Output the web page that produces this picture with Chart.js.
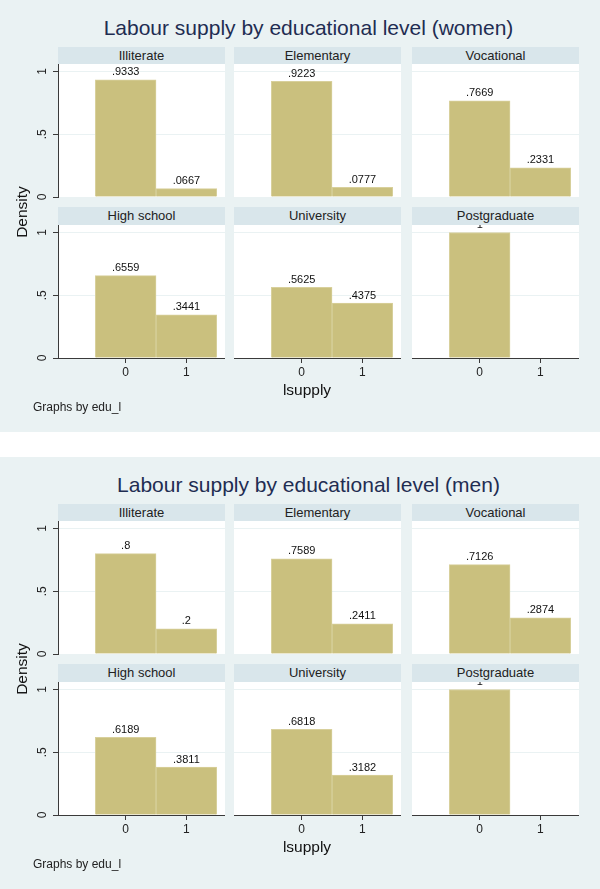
<!DOCTYPE html>
<html>
<head>
<meta charset="utf-8">
<script src="https://cdn.jsdelivr.net/npm/chart.js@4.4.1/dist/chart.umd.min.js"></script>
<style>
  body { margin: 0; background: #fff; width: 600px; height: 889px; position: relative; overflow: hidden;
         font-family: "Liberation Sans", Arial, Helvetica, sans-serif; }
  .fig { position: absolute; left: 0; width: 600px; height: 432px; background: #eaf2f3; }
  .title { position: absolute; left: 0; width: 617px; top: 16px; line-height: 24px; text-align: center;
           font-size: 21px; color: #1f2d52; white-space: nowrap; }
  .strip { position: absolute; background: #d9e6eb; text-align: center; font-size: 13px; color: #222; }
  .xtitle { position: absolute; left: 207px; width: 200px; top: 381px; line-height: 18px; text-align: center;
            font-size: 15.5px; color: #111; }
  .ytitle { position: absolute; left: -18px; top: 203px; width: 80px; line-height: 18px; text-align: center;
            font-size: 15.5px; color: #111; transform: rotate(-90deg); }
  .note { position: absolute; left: 33px; top: 400px; line-height: 14px; font-size: 12px; color: #222; }
  .panel { position: absolute; }
</style>
</head>
<body>
<script>
// panels in Stata by() order
var categories = ['Illiterate', 'Elementary', 'Vocational', 'High school', 'University', 'Postgraduate'];

// density of lsupply = 0 and lsupply = 1 in each group
var women0 = [.9333, .9223, .7669, .6559, .5625, 1];
var women1 = [.0667, .0777, .2331, .3441, .4375, 0];
var men0 = [.8, .7589, .7126, .6189, .6818, 1];
var men1 = [.2, .2411, .2874, .3811, .3182, 0];

var xTicks = [0, 1];
var yTicks = [0, .5, 1];

var figures = [
  { title: 'Labour supply by educational level (women)', v0: women0, v1: women1 },
  { title: 'Labour supply by educational level (men)', v0: men0, v1: men1 }
];

var BAR = '#cac07e';
var BAR_EDGE = '#d8d09c';
var AXIS = '#3a3a3a';
var GRID = '#eaf2f3';
var FONT = '"Liberation Sans", Arial, Helvetica, sans-serif';

var colLeft = [58, 234, 412];
var plotTop = [64, 225];
var stripTop = [47, 207];
var plotW = 167, plotH = 133;

function fmt(v) {
  return String(v).replace(/^0\./, '.');
}

var plotBg = {
  id: 'plotBg',
  beforeDraw: function(chart) {
    var a = chart.chartArea, ctx = chart.ctx;
    ctx.save();
    ctx.fillStyle = '#ffffff';
    ctx.fillRect(a.left, a.top, a.right - a.left, a.bottom - a.top);
    ctx.restore();
  }
};

var barLabels = {
  id: 'barLabels',
  afterDatasetsDraw: function(chart) {
    var a = chart.chartArea, ctx = chart.ctx;
    var meta = chart.getDatasetMeta(0);
    var data = chart.data.datasets[0].data;
    ctx.save();
    ctx.beginPath();
    ctx.rect(a.left, a.top, a.right - a.left, a.bottom - a.top);
    ctx.clip();
    ctx.font = '11px ' + FONT;
    ctx.fillStyle = '#111';
    ctx.textAlign = 'center';
    ctx.textBaseline = 'alphabetic';
    meta.data.forEach(function(bar, j) {
      if (data[j].y == null) return;
      ctx.fillText(fmt(data[j].y), bar.x, bar.y - 4.5);
    });
    ctx.restore();
  }
};

// Stata writes the y tick labels turned on their side
var yLabels = {
  id: 'yLabels',
  afterDraw: function(chart, args, opts) {
    if (!opts.show) return;
    var s = chart.scales.y, ctx = chart.ctx;
    ctx.save();
    ctx.font = '12px ' + FONT;
    ctx.fillStyle = '#222';
    ctx.textAlign = 'center';
    ctx.textBaseline = 'middle';
    s.ticks.forEach(function(t) {
      ctx.save();
      ctx.translate(chart.chartArea.left - 15, s.getPixelForValue(t.value));
      ctx.rotate(-Math.PI / 2);
      ctx.fillText(fmt(t.value), 0, 0);
      ctx.restore();
    });
    ctx.restore();
  }
};

figures.forEach(function(f, fi) {
  var fig = document.createElement('div');
  fig.className = 'fig';
  fig.style.top = (fi * 457) + 'px';
  document.body.appendChild(fig);

  var t = document.createElement('div');
  t.className = 'title';
  t.textContent = f.title;
  fig.appendChild(t);

  categories.forEach(function(cat, i) {
    var row = Math.floor(i / 3), col = i % 3;
    var bottom = row == 1;
    var yw = col == 0 ? 30 : 0;
    var xh = bottom ? 30 : 0;
    var padB = bottom ? 0 : 6;   // room for the rotated "0" under the top row

    var strip = document.createElement('div');
    strip.className = 'strip';
    strip.style.left = colLeft[col] + 'px';
    strip.style.top = stripTop[row] + 'px';
    strip.style.width = plotW + 'px';
    strip.style.height = (plotTop[row] - stripTop[row]) + 'px';
    strip.style.lineHeight = (plotTop[row] - stripTop[row]) + 'px';
    strip.textContent = cat;
    fig.appendChild(strip);

    var box = document.createElement('div');
    box.className = 'panel';
    box.style.left = (colLeft[col] - yw) + 'px';
    box.style.top = plotTop[row] + 'px';
    var cv = document.createElement('canvas');
    cv.width = plotW + yw;
    cv.height = plotH + xh + padB;
    box.appendChild(cv);
    fig.appendChild(box);

    var d0 = f.v0[i], d1 = f.v1[i];
    new Chart(cv, {
      type: 'bar',
      data: {
        datasets: [{
          data: [{ x: 0, y: d0 || null }, { x: 1, y: d1 || null }],
          backgroundColor: BAR,
          borderColor: BAR_EDGE,
          borderWidth: 1,
          barPercentage: 1,
          categoryPercentage: 1
        }]
      },
      options: {
        responsive: false,
        animation: false,
        devicePixelRatio: 1,
        layout: { padding: { left: 0, right: 0, top: 0, bottom: padB } },
        plugins: { legend: { display: false }, tooltip: { enabled: false }, yLabels: { show: col == 0 } },
        scales: {
          x: {
            type: 'linear', min: -1.115, max: 1.636, offset: false, display: bottom,
            afterBuildTicks: function(s) { s.ticks = xTicks.map(function(v) { return { value: v }; }); },
            afterFit: function(s) { s.height = xh; },
            grid: { drawOnChartArea: false, drawTicks: true, tickLength: 5, tickColor: AXIS, offset: false },
            border: { display: true, color: AXIS, width: 1 },
            ticks: { padding: 2, color: '#222', font: { family: FONT, size: 12 }, maxRotation: 0, autoSkip: false,
                     callback: function(v) { return fmt(v); } }
          },
          y: {
            min: 0, max: 1.06,
            afterBuildTicks: function(s) { s.ticks = yTicks.map(function(v) { return { value: v }; }); },
            afterFit: function(s) { s.width = yw; },
            grid: { color: GRID, lineWidth: 1, drawTicks: col == 0, tickLength: 5, tickColor: AXIS },
            border: { display: col == 0, color: AXIS, width: 1 },
            ticks: { display: false }
          }
        }
      },
      plugins: [plotBg, barLabels, yLabels]
    });
  });

  var xt = document.createElement('div');
  xt.className = 'xtitle';
  xt.textContent = 'lsupply';
  fig.appendChild(xt);

  var yt = document.createElement('div');
  yt.className = 'ytitle';
  yt.textContent = 'Density';
  fig.appendChild(yt);

  var n = document.createElement('div');
  n.className = 'note';
  n.textContent = 'Graphs by edu_l';
  fig.appendChild(n);
});
</script>
</body>
</html>
